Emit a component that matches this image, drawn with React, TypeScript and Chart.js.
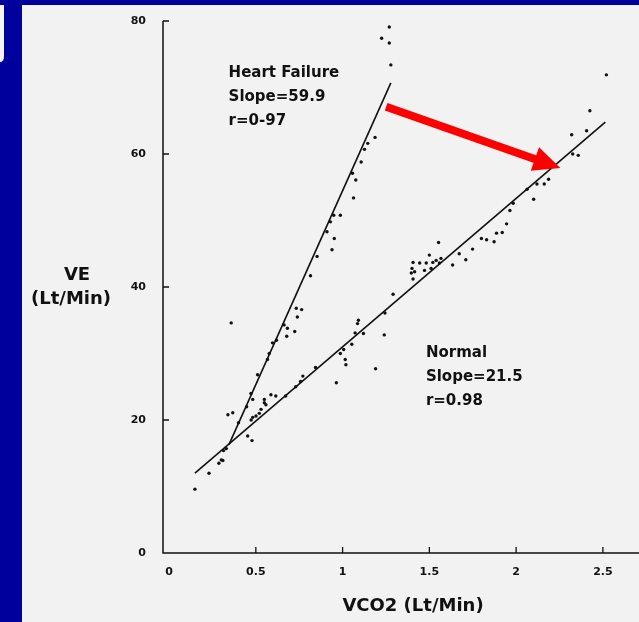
import React, { useEffect, useRef } from "react";
import { Chart, registerables } from "chart.js";

Chart.register(...registerables);

// ---- data ----
const hfX = [1.269, 1.225, 1.269, 1.278, 1.187, 1.145, 1.126, 1.107, 1.057, 1.076, 1.063, 0.949, 0.987, 0.93, 0.91, 0.952, 0.939, 0.853, 0.815, 0.733, 0.764, 0.739, 0.663, 0.682, 0.724, 0.678, 0.596, 0.619, 0.577, 0.567, 0.51, 0.472, 0.447, 0.339, 0.367, 0.4, 0.358];
const hfY = [79.1, 77.4, 76.7, 73.4, 62.5, 61.6, 60.7, 58.8, 57.1, 56.1, 53.4, 50.8, 50.8, 49.8, 48.3, 47.3, 45.6, 44.6, 41.7, 36.8, 36.6, 35.5, 34.3, 33.8, 33.3, 32.6, 31.6, 32.0, 30.0, 29.1, 26.8, 24.0, 22.0, 20.8, 21.1, 19.6, 34.6];

const normalX = [0.149, 0.23, 0.287, 0.301, 0.31, 0.314, 0.33, 0.453, 0.478, 0.473, 0.482, 0.501, 0.52, 0.53, 0.549, 0.558, 0.482, 0.549, 0.587, 0.615, 0.672, 0.73, 0.758, 0.771, 0.844, 0.964, 0.987, 1.006, 1.015, 1.019, 1.053, 1.072, 1.086, 1.091, 1.12, 1.19, 1.24, 1.244, 1.291, 1.396, 1.4, 1.406, 1.406, 1.415, 1.444, 1.472, 1.482, 1.5, 1.51, 1.52, 1.539, 1.553, 1.558, 1.567, 1.634, 1.672, 1.71, 1.749, 1.8, 1.83, 1.873, 1.887, 1.92, 1.945, 1.964, 1.983, 2.063, 2.101, 2.12, 2.162, 2.187, 2.326, 2.358, 2.32, 2.406, 2.425, 2.52];
const normalY = [9.6, 12.0, 13.5, 14.0, 13.9, 15.4, 15.7, 17.6, 16.9, 20.0, 20.4, 20.6, 21.0, 21.6, 22.6, 22.3, 23.1, 23.1, 23.8, 23.6, 23.6, 25.0, 25.8, 26.6, 27.9, 25.6, 30.0, 30.6, 29.1, 28.3, 31.4, 33.1, 34.5, 35.0, 33.0, 27.7, 32.8, 36.1, 38.9, 42.1, 42.8, 41.2, 43.7, 42.3, 43.6, 42.5, 43.6, 44.8, 42.8, 43.7, 44.0, 46.7, 43.6, 44.3, 43.3, 45.0, 44.1, 45.7, 47.3, 47.1, 46.8, 48.1, 48.2, 49.5, 51.5, 52.6, 54.7, 53.2, 55.5, 55.5, 56.2, 60.0, 59.8, 62.9, 63.5, 66.5, 71.9];

const hfFitX = [0.345, 1.278];
const hfFitY = [16.3, 70.7];
const normalFitX = [0.149, 2.514];
const normalFitY = [12.0, 64.8];

const xTicks = [0, 0.5, 1, 1.5, 2, 2.5];
const yTicks = [0, 20, 40, 60, 80];

const arrowFrom = [1.251, 67.1];
const arrowTo = [2.255, 57.9];

const hfLabel = ["Heart Failure", "Slope=59.9", "r=0-97"];
const hfLabelAt = [0.343, 71.6];
const normalLabel = ["Normal", "Slope=21.5", "r=0.98"];
const normalLabelAt = [1.48, 29.5];

const xTitle = "VCO2 (Lt/Min)";
const yTitle = ["VE", "(Lt/Min)"];

const BLUE = "#00009c";
const PAPER = "#f2f2f2";
const INK = "#111111";
const FONT = "'DejaVu Sans', sans-serif";

const pts = (xs: number[], ys: number[]) => xs.map((x, i) => ({ x, y: ys[i] }));

const decorPlugin = {
  id: "decor",
  beforeDraw(chart: any) {
    const { ctx, width, height } = chart;
    ctx.save();
    ctx.fillStyle = BLUE;
    ctx.fillRect(0, 0, width, height);
    ctx.fillStyle = PAPER;
    ctx.fillRect(22, 5, width - 22, height - 5);
    ctx.beginPath();
    ctx.moveTo(0, 5);
    ctx.lineTo(4, 5);
    ctx.lineTo(4, 56);
    ctx.quadraticCurveTo(4, 62, 0, 62);
    ctx.closePath();
    ctx.fillStyle = "#f4f4f4";
    ctx.fill();
    ctx.restore();
  },
  afterDatasetsDraw(chart: any) {
    const { ctx, chartArea, width } = chart;
    const xs = chart.scales.x;
    const ys = chart.scales.y;
    ctx.save();
    // axes
    ctx.strokeStyle = INK;
    ctx.lineWidth = 1.5;
    ctx.beginPath();
    ctx.moveTo(chartArea.left, chartArea.top);
    ctx.lineTo(chartArea.left, chartArea.bottom);
    ctx.lineTo(width, chartArea.bottom);
    ctx.stroke();
    // inward tick marks
    ctx.lineWidth = 1.3;
    ctx.beginPath();
    xTicks.filter((v) => v > 0).forEach((v) => {
      const px = xs.getPixelForValue(v);
      ctx.moveTo(px, chartArea.bottom);
      ctx.lineTo(px, chartArea.bottom - 6);
    });
    yTicks.filter((v) => v > 0).forEach((v) => {
      const py = ys.getPixelForValue(v);
      ctx.moveTo(chartArea.left, py);
      ctx.lineTo(chartArea.left + 6, py);
    });
    ctx.stroke();

    // red arrow
    const x0 = xs.getPixelForValue(arrowFrom[0]);
    const y0 = ys.getPixelForValue(arrowFrom[1]);
    const x1 = xs.getPixelForValue(arrowTo[0]);
    const y1 = ys.getPixelForValue(arrowTo[1]);
    const len = Math.hypot(x1 - x0, y1 - y0);
    const dx = (x1 - x0) / len;
    const dy = (y1 - y0) / len;
    const head = 27;
    const half = 12.5;
    const bx = x1 - dx * head;
    const by = y1 - dy * head;
    ctx.strokeStyle = "#ff0000";
    ctx.fillStyle = "#ff0000";
    ctx.lineWidth = 8;
    ctx.lineCap = "butt";
    ctx.beginPath();
    ctx.moveTo(x0, y0);
    ctx.lineTo(bx + dx * 2, by + dy * 2);
    ctx.stroke();
    ctx.beginPath();
    ctx.moveTo(x1, y1);
    ctx.lineTo(bx - dy * half, by + dx * half);
    ctx.lineTo(bx + dy * half, by - dx * half);
    ctx.closePath();
    ctx.fill();

    // annotations
    ctx.fillStyle = INK;
    ctx.textAlign = "left";
    ctx.textBaseline = "alphabetic";
    ctx.font = `bold 15px ${FONT}`;
    const drawBlock = (lines: string[], at: number[]) => {
      const lx = xs.getPixelForValue(at[0]);
      const ly = ys.getPixelForValue(at[1]);
      lines.forEach((t, i) => ctx.fillText(t, lx, ly + i * 24));
    };
    drawBlock(hfLabel, hfLabelAt);
    drawBlock(normalLabel, normalLabelAt);

    // axis titles
    ctx.font = `bold 18px ${FONT}`;
    ctx.textAlign = "center";
    ctx.fillText(xTitle, 413, 611);
    ctx.fillText(yTitle[0], 77, 280);
    ctx.fillText(yTitle[1], 71, 304);
    ctx.restore();
  },
};

export default function App() {
  const ref = useRef<HTMLCanvasElement | null>(null);
  useEffect(() => {
    if (!ref.current) return;
    const tickFont = { family: FONT, size: 11, weight: "bold" as const };
    const chart = new Chart(ref.current, {
      type: "scatter",
      data: {
        datasets: [
          {
            label: "Heart Failure",
            data: pts(hfX, hfY),
            pointRadius: 1.7,
            pointBackgroundColor: INK,
            pointBorderWidth: 0,
          },
          {
            label: "Normal",
            data: pts(normalX, normalY),
            pointRadius: 1.7,
            pointBackgroundColor: INK,
            pointBorderWidth: 0,
          },
          {
            label: "HF fit",
            data: pts(hfFitX, hfFitY),
            showLine: true,
            borderColor: INK,
            borderWidth: 1.6,
            pointRadius: 0,
          },
          {
            label: "Normal fit",
            data: pts(normalFitX, normalFitY),
            showLine: true,
            borderColor: INK,
            borderWidth: 1.6,
            pointRadius: 0,
          },
        ],
      },
      options: {
        animation: false,
        responsive: true,
        maintainAspectRatio: false,
        layout: { padding: { top: 21, left: 0, right: 0, bottom: 0 } },
        plugins: { legend: { display: false }, tooltip: { enabled: false } },
        scales: {
          x: {
            type: "linear",
            min: -0.035,
            max: 2.685,
            grid: { display: false, drawTicks: false },
            border: { display: false },
            ticks: {
              color: INK,
              font: tickFont,
              padding: 13,
              autoSkip: false,
              maxRotation: 0,
              callback: (v: any) => String(v),
            },
            afterBuildTicks: (s: any) => {
              s.ticks = xTicks.map((v) => ({ value: v }));
            },
            afterFit: (s: any) => {
              s.height = 69;
              s.paddingLeft = 0;
              s.paddingRight = 0;
            },
          },
          y: {
            type: "linear",
            min: 0,
            max: 80,
            grid: { display: false, drawTicks: false },
            border: { display: false },
            ticks: { color: INK, font: tickFont, padding: 17, autoSkip: false },
            afterBuildTicks: (s: any) => {
              s.ticks = yTicks.map((v) => ({ value: v }));
            },
            afterFit: (s: any) => {
              s.width = 163;
              s.paddingTop = 0;
              s.paddingBottom = 0;
            },
          },
        },
      },
      plugins: [decorPlugin],
    });
    return () => chart.destroy();
  }, []);
  return (
    <div style={{ position: "fixed", left: 0, top: 0, width: 639, height: 622 }}>
      <canvas ref={ref} />
    </div>
  );
}
